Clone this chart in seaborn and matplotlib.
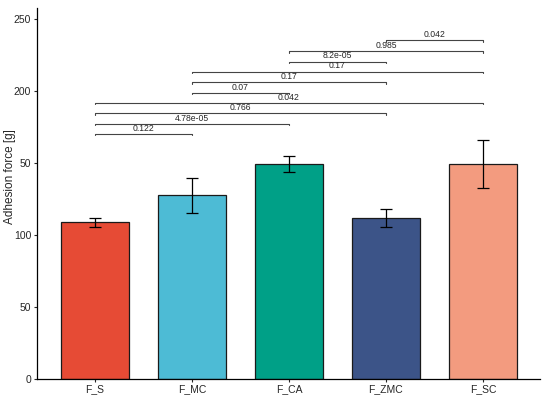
import numpy as np
import pandas as pd
import seaborn as sns
from matplotlib import pyplot as plt

# bar heights and sd
groups = ['F_S', 'F_MC', 'F_CA', 'F_ZMC', 'F_SC']
force = [109.0, 127.6, 149.3, 112.0, 149.3]
sd = [3.0, 12.0, 5.5, 6.1, 16.7]
colors = ['#E64B35', '#4DBBD5', '#00A087', '#3C5488', '#F39B7F']

# pairwise comparisons (bottom to top)
pair_a = ['F_S', 'F_S', 'F_S', 'F_S', 'F_MC', 'F_MC', 'F_MC', 'F_CA', 'F_CA', 'F_ZMC']
pair_b = ['F_MC', 'F_CA', 'F_ZMC', 'F_SC', 'F_CA', 'F_ZMC', 'F_SC', 'F_ZMC', 'F_SC', 'F_SC']
pvals = ['0.122', '4.78e-05', '0.766', '0.042', '0.07', '0.17', '0.17', '8.2e-05', '0.985', '0.042']
bracket_y = [170.3, 177.5, 184.7, 191.9, 198.9, 206.3, 213.7, 220.7, 228.0, 235.4]

yticks = [0, 50, 100, 150, 200, 250]
ytick_labels = ['0', '50', '100', '50', '200', '250']

df = pd.DataFrame({'group': groups, 'force': force, 'sd': sd})

sns.set_style('white')
plt.rcParams['font.family'] = ['Liberation Sans', 'DejaVu Sans']

f, ax = plt.subplots(figsize=(5.5, 3.96), dpi=100)
f.subplots_adjust(left=0.067, right=0.982, bottom=0.043, top=0.98)

sns.barplot(data=df, x='group', y='force', hue='group', palette=colors,
            order=groups, hue_order=groups, width=0.7, errorbar=None,
            saturation=1, edgecolor='#1a1a1a', linewidth=0.9, legend=False, ax=ax)
ax.errorbar(np.arange(len(groups)), df['force'], yerr=df['sd'], fmt='none',
            ecolor='black', elinewidth=0.9, capsize=4, capthick=0.9)

pos = {g: i for i, g in enumerate(groups)}
for a, b, p, y in zip(pair_a, pair_b, pvals, bracket_y):
    x1, x2 = pos[a], pos[b]
    ax.plot([x1, x1, x2, x2], [y - 1.0, y, y, y - 1.0], color='#444444', lw=0.8)
    ax.text((x1 + x2) / 2, y + 0.8, p, ha='center', va='bottom', fontsize=6.2)

ax.set_xlim(-0.6, 4.59)
ax.set_ylim(0, 258)
ax.set_yticks(yticks)
ax.set_yticklabels(ytick_labels)
ax.set_xlabel('')
ax.set_ylabel('Adhesion force [g]', fontsize=8.5)
ax.yaxis.set_label_coords(-0.041, 0.545)
ax.tick_params(axis='both', labelsize=7.5, length=2.5, width=0.8, direction='out',
               left=True, bottom=True, pad=1.5)
sns.despine(ax=ax)
for s in ['left', 'bottom']:
    ax.spines[s].set_linewidth(0.9)
    ax.spines[s].set_color('black')

plt.savefig('out.png', dpi=100)
